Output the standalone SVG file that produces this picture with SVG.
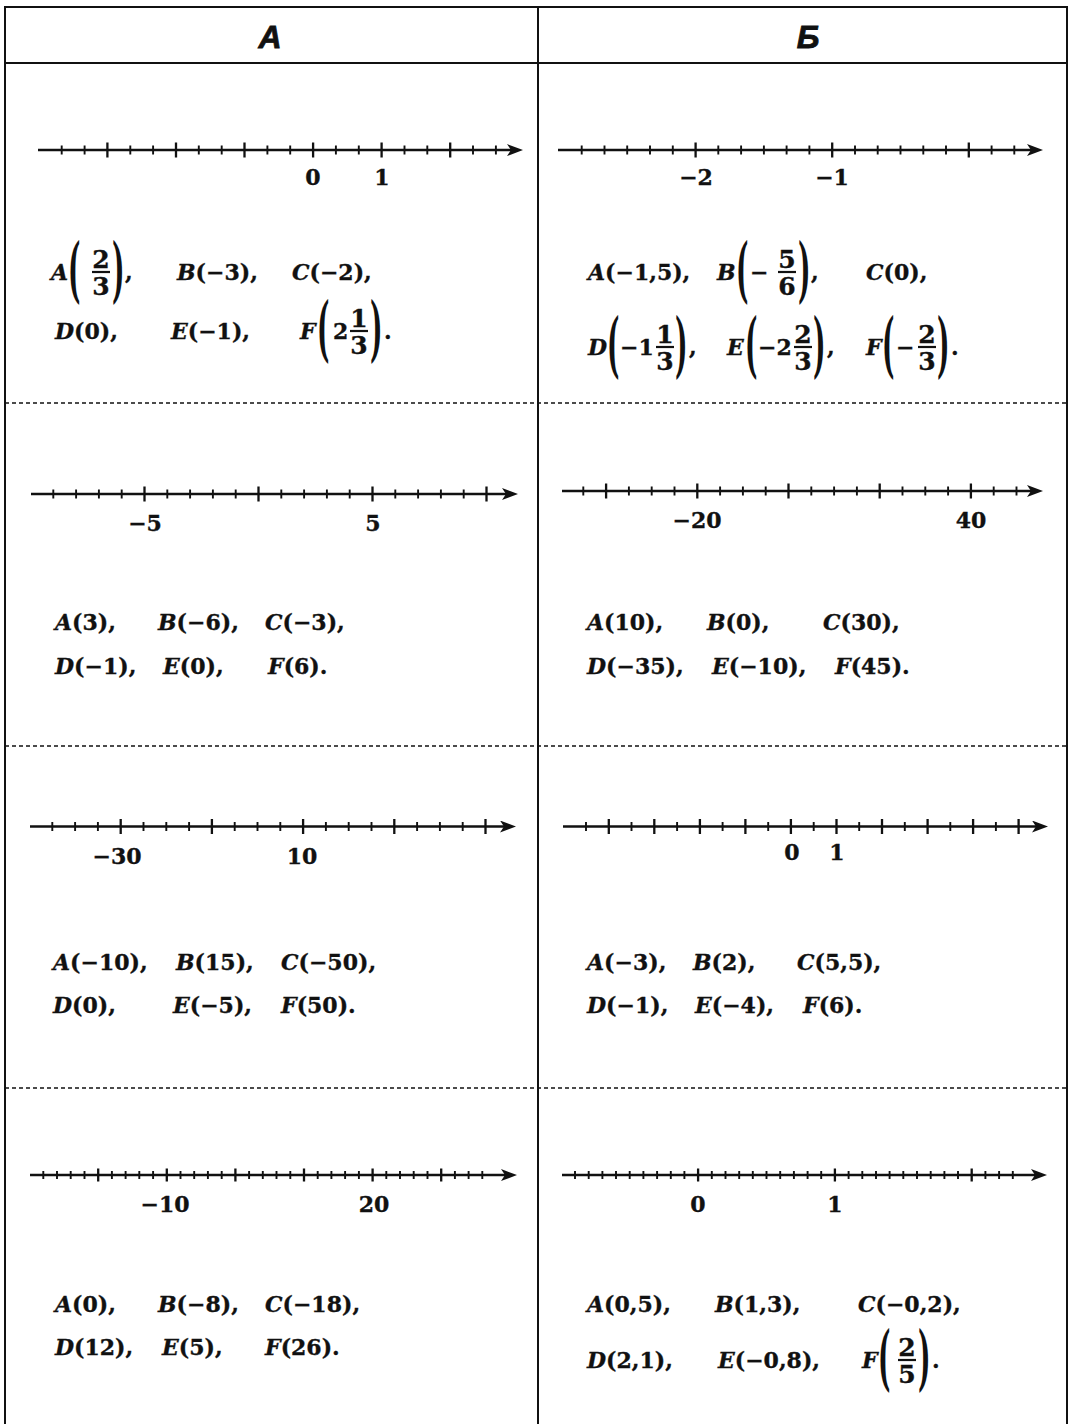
<svg xmlns="http://www.w3.org/2000/svg" width="1072" height="1424" viewBox="0 0 1072 1424">
<style>
.bg{fill:#fff}
.grid{stroke:#111;stroke-width:2;fill:none}
.dash{stroke:#111;stroke-width:1.3;stroke-dasharray:4 3;fill:none}
.hd{font-family:"Liberation Sans",Arial,sans-serif;font-weight:bold;font-style:italic;font-size:32px;text-anchor:middle;fill:#111;stroke:#111;stroke-width:0.8}
.axis{stroke:#111;stroke-width:2.4;fill:none;marker-end:url(#arr)}
.tk{stroke:#111;stroke-width:1.9;fill:none}
.tkl{stroke:#111;stroke-width:2.3;fill:none}
.lb{font-family:"DejaVu Serif",serif;font-weight:bold;font-size:22px;text-anchor:middle;fill:#111;stroke:#111;stroke-width:0.35}
.tx{font-family:"DejaVu Serif",serif;font-weight:bold;font-size:22px;fill:#111;stroke:#111;stroke-width:0.35}
.i{font-style:italic}
.fr{font-family:"DejaVu Serif",serif;font-weight:bold;font-size:25px;text-anchor:middle;fill:#111;stroke:#111;stroke-width:0.35}
.pr{font-family:"DejaVu Serif",serif;font-weight:bold;font-size:22px;fill:#111}
.bar{stroke:#111;stroke-width:2.2}
</style>
<defs>
<marker id="arr" markerUnits="userSpaceOnUse" markerWidth="18" markerHeight="14" refX="10" refY="6" orient="auto" viewBox="0 0 18 14">
<path d="M0,0 L16,6 L0,12 L4,6 z" fill="#111"/>
</marker>
</defs>
<rect class="bg" x="0" y="0" width="1072" height="1424"/>
<g id="table">
<path class="grid" d="M5,1424 V7 H1067 V1424 M5,63 H1067 M538,7 V1424"/>
<path class="dash" d="M5,403 H1067 M5,746 H1067 M5,1088 H1067"/>
</g>
<g id="header-A"><text class="hd" x="270" y="48">A</text></g>
<g id="header-B"><text class="hd" x="808" y="48">Б</text></g>

<g id="A1">
<g id="A1-line">
<line class="axis" x1="38" y1="150" x2="517" y2="150"/>
<path class="tk" d="M61.7,145.5v9M84.6,145.5v9M130.3,145.5v9M153.1,145.5v9M198.8,145.5v9M221.7,145.5v9M267.4,145.5v9M290.2,145.5v9M335.9,145.5v9M358.8,145.5v9M404.5,145.5v9M427.3,145.5v9M473,145.5v9M495.9,145.5v9"/>
<path class="tkl" d="M107.4,142.5v15M176,142.5v15M244.5,142.5v15M313.1,142.5v15M381.6,142.5v15M450.2,142.5v15"/>
<text class="lb" x="313" y="185">0</text>
<text class="lb" x="382" y="185">1</text>
</g>
<g id="A1-points">
<text class="tx" x="51" y="280"><tspan class="i">A</tspan></text>
<text class="pr" transform="translate(68,294) scale(1.2,3.2)">(</text>
<text class="fr" x="101" y="268">2</text><line class="bar" x1="92" y1="272" x2="110" y2="272"/><text class="fr" x="101" y="295">3</text>
<text class="pr" transform="translate(112,294) scale(1.2,3.2)">)</text>
<text class="tx" x="125" y="280">,</text>
<text class="tx" x="177" y="280"><tspan class="i">B</tspan>(−3),</text>
<text class="tx" x="292" y="280"><tspan class="i">C</tspan>(−2),</text>
<text class="tx" x="55" y="339"><tspan class="i">D</tspan>(0),</text>
<text class="tx" x="171" y="339"><tspan class="i">E</tspan>(−1),</text>
<text class="tx" x="300" y="339"><tspan class="i">F</tspan></text>
<text class="pr" transform="translate(317,353) scale(1.2,3.2)">(</text>
<text class="tx" x="333" y="339">2</text>
<text class="fr" x="359" y="327">1</text><line class="bar" x1="350" y1="331" x2="368" y2="331"/><text class="fr" x="359" y="354">3</text>
<text class="pr" transform="translate(370,353) scale(1.2,3.2)">)</text>
<text class="tx" x="384" y="339">.</text>
</g>
</g>

<g id="B1">
<g id="B1-line">
<line class="axis" x1="558" y1="150" x2="1037" y2="150"/>
<path class="tk" d="M581.7,145.5v9M604.5,145.5v9M627.2,145.5v9M650,145.5v9M672.8,145.5v9M718.3,145.5v9M741.1,145.5v9M763.9,145.5v9M786.6,145.5v9M809.4,145.5v9M855,145.5v9M877.7,145.5v9M900.5,145.5v9M923.3,145.5v9M946,145.5v9M991.6,145.5v9M1014.3,145.5v9"/>
<path class="tkl" d="M695.6,142.5v15M832.2,142.5v15M968.8,142.5v15"/>
<text class="lb" x="696" y="185">−2</text>
<text class="lb" x="832" y="185">−1</text>
</g>
<g id="B1-points">
<text class="tx" x="588" y="280"><tspan class="i">A</tspan>(−1,5),</text>
<text class="tx" x="717" y="280"><tspan class="i">B</tspan></text>
<text class="pr" transform="translate(736,294) scale(1.2,3.2)">(</text>
<text class="tx" x="750" y="280">−</text>
<text class="fr" x="787" y="268">5</text><line class="bar" x1="778" y1="272" x2="796" y2="272"/><text class="fr" x="787" y="295">6</text>
<text class="pr" transform="translate(798,294) scale(1.2,3.2)">)</text>
<text class="tx" x="811" y="280">,</text>
<text class="tx" x="866" y="280"><tspan class="i">C</tspan>(0),</text>
<text class="tx" x="588" y="355"><tspan class="i">D</tspan></text>
<text class="pr" transform="translate(607,369) scale(1.2,3.2)">(</text>
<text class="tx" x="620" y="355">−1</text>
<text class="fr" x="665" y="343">1</text><line class="bar" x1="656" y1="347" x2="674" y2="347"/><text class="fr" x="665" y="370">3</text>
<text class="pr" transform="translate(675,369) scale(1.2,3.2)">)</text>
<text class="tx" x="689" y="355">,</text>
<text class="tx" x="727" y="355"><tspan class="i">E</tspan></text>
<text class="pr" transform="translate(745,369) scale(1.2,3.2)">(</text>
<text class="tx" x="758" y="355">−2</text>
<text class="fr" x="803" y="343">2</text><line class="bar" x1="794" y1="347" x2="812" y2="347"/><text class="fr" x="803" y="370">3</text>
<text class="pr" transform="translate(813,369) scale(1.2,3.2)">)</text>
<text class="tx" x="827" y="355">,</text>
<text class="tx" x="866" y="355"><tspan class="i">F</tspan></text>
<text class="pr" transform="translate(882,369) scale(1.2,3.2)">(</text>
<text class="tx" x="896" y="355">−</text>
<text class="fr" x="927" y="343">2</text><line class="bar" x1="918" y1="347" x2="936" y2="347"/><text class="fr" x="927" y="370">3</text>
<text class="pr" transform="translate(937,369) scale(1.2,3.2)">)</text>
<text class="tx" x="951" y="355">.</text>
</g>
</g>

<g id="A2">
<g id="A2-line">
<line class="axis" x1="31" y1="494" x2="512" y2="494"/>
<path class="tk" d="M53.3,489.5v9M76.1,489.5v9M98.9,489.5v9M121.7,489.5v9M167.3,489.5v9M190.1,489.5v9M212.9,489.5v9M235.7,489.5v9M281.3,489.5v9M304.1,489.5v9M326.9,489.5v9M349.7,489.5v9M395.3,489.5v9M418.1,489.5v9M440.9,489.5v9M463.7,489.5v9"/>
<path class="tkl" d="M144.5,486.5v15M258.5,486.5v15M372.5,486.5v15M486.5,486.5v15"/>
<text class="lb" x="145" y="531">−5</text>
<text class="lb" x="373" y="531">5</text>
</g>
<g id="A2-points">
<text class="tx" x="55" y="630"><tspan class="i">A</tspan>(3),</text>
<text class="tx" x="158" y="630"><tspan class="i">B</tspan>(−6),</text>
<text class="tx" x="265" y="630"><tspan class="i">C</tspan>(−3),</text>
<text class="tx" x="55" y="674"><tspan class="i">D</tspan>(−1),</text>
<text class="tx" x="163" y="674"><tspan class="i">E</tspan>(0),</text>
<text class="tx" x="268" y="674"><tspan class="i">F</tspan>(6).</text>
</g>
</g>

<g id="B2">
<g id="B2-line">
<line class="axis" x1="562" y1="491" x2="1037" y2="491"/>
<path class="tk" d="M583.3,486.5v9M628.9,486.5v9M651.7,486.5v9M674.5,486.5v9M720.1,486.5v9M742.9,486.5v9M765.7,486.5v9M811.3,486.5v9M834.1,486.5v9M856.9,486.5v9M902.5,486.5v9M925.3,486.5v9M948.1,486.5v9M993.7,486.5v9M1016.5,486.5v9"/>
<path class="tkl" d="M606.1,483.5v15M697.3,483.5v15M788.5,483.5v15M879.7,483.5v15M970.9,483.5v15"/>
<text class="lb" x="697" y="528">−20</text>
<text class="lb" x="971" y="528">40</text>
</g>
<g id="B2-points">
<text class="tx" x="587" y="630"><tspan class="i">A</tspan>(10),</text>
<text class="tx" x="707" y="630"><tspan class="i">B</tspan>(0),</text>
<text class="tx" x="823" y="630"><tspan class="i">C</tspan>(30),</text>
<text class="tx" x="587" y="674"><tspan class="i">D</tspan>(−35),</text>
<text class="tx" x="712" y="674"><tspan class="i">E</tspan>(−10),</text>
<text class="tx" x="835" y="674"><tspan class="i">F</tspan>(45).</text>
</g>
</g>

<g id="A3">
<g id="A3-line">
<line class="axis" x1="30" y1="826.5" x2="510" y2="826.5"/>
<path class="tk" d="M52.3,822v9M75.1,822v9M97.9,822v9M143.5,822v9M166.3,822v9M189.1,822v9M234.7,822v9M257.5,822v9M280.3,822v9M325.9,822v9M348.7,822v9M371.5,822v9M417.1,822v9M439.9,822v9M462.7,822v9"/>
<path class="tkl" d="M120.7,819v15M211.9,819v15M303.1,819v15M394.3,819v15M485.5,819v15"/>
<text class="lb" x="117" y="864">−30</text>
<text class="lb" x="302" y="864">10</text>
</g>
<g id="A3-points">
<text class="tx" x="53" y="970"><tspan class="i">A</tspan>(−10),</text>
<text class="tx" x="176" y="970"><tspan class="i">B</tspan>(15),</text>
<text class="tx" x="281" y="970"><tspan class="i">C</tspan>(−50),</text>
<text class="tx" x="53" y="1013"><tspan class="i">D</tspan>(0),</text>
<text class="tx" x="173" y="1013"><tspan class="i">E</tspan>(−5),</text>
<text class="tx" x="281" y="1013"><tspan class="i">F</tspan>(50).</text>
</g>
</g>

<g id="B3">
<g id="B3-line">
<line class="axis" x1="563" y1="826.5" x2="1042" y2="826.5"/>
<path class="tk" d="M586,822v9M631.5,822v9M677.1,822v9M722.6,822v9M768.2,822v9M813.7,822v9M859.2,822v9M904.8,822v9M950.3,822v9M995.9,822v9"/>
<path class="tkl" d="M608.8,819v15M654.3,819v15M699.9,819v15M745.4,819v15M790.9,819v15M836.5,819v15M882,819v15M927.6,819v15M973.1,819v15M1018.6,819v15"/>
<text class="lb" x="792" y="860">0</text>
<text class="lb" x="837" y="860">1</text>
</g>
<g id="B3-points">
<text class="tx" x="587" y="970"><tspan class="i">A</tspan>(−3),</text>
<text class="tx" x="693" y="970"><tspan class="i">B</tspan>(2),</text>
<text class="tx" x="797" y="970"><tspan class="i">C</tspan>(5,5),</text>
<text class="tx" x="587" y="1013"><tspan class="i">D</tspan>(−1),</text>
<text class="tx" x="695" y="1013"><tspan class="i">E</tspan>(−4),</text>
<text class="tx" x="803" y="1013"><tspan class="i">F</tspan>(6).</text>
</g>
</g>

<g id="A4">
<g id="A4-line">
<line class="axis" x1="30" y1="1175" x2="511" y2="1175"/>
<path class="tk" d="M43.3,1171v8M57,1171v8M70.7,1171v8M84.5,1171v8M111.9,1171v8M125.6,1171v8M139.3,1171v8M153.1,1171v8M180.5,1171v8M194.2,1171v8M207.9,1171v8M221.7,1171v8M249.1,1171v8M262.8,1171v8M276.5,1171v8M290.3,1171v8M317.7,1171v8M331.4,1171v8M345.1,1171v8M358.9,1171v8M386.3,1171v8M400,1171v8M413.7,1171v8M427.5,1171v8M454.9,1171v8M468.6,1171v8M482.3,1171v8"/>
<path class="tkl" d="M98.2,1168.5v13M166.8,1168.5v13M235.4,1168.5v13M304,1168.5v13M372.6,1168.5v13M441.2,1168.5v13"/>
<text class="lb" x="165" y="1212">−10</text>
<text class="lb" x="374" y="1212">20</text>
</g>
<g id="A4-points">
<text class="tx" x="55" y="1312"><tspan class="i">A</tspan>(0),</text>
<text class="tx" x="158" y="1312"><tspan class="i">B</tspan>(−8),</text>
<text class="tx" x="265" y="1312"><tspan class="i">C</tspan>(−18),</text>
<text class="tx" x="55" y="1355"><tspan class="i">D</tspan>(12),</text>
<text class="tx" x="162" y="1355"><tspan class="i">E</tspan>(5),</text>
<text class="tx" x="265" y="1355"><tspan class="i">F</tspan>(26).</text>
</g>
</g>

<g id="B4">
<g id="B4-line">
<line class="axis" x1="562" y1="1175" x2="1041" y2="1175"/>
<path class="tk" d="M575,1171v8M588.7,1171v8M602.4,1171v8M616,1171v8M629.7,1171v8M643.4,1171v8M657.1,1171v8M670.8,1171v8M684.4,1171v8M711.8,1171v8M725.5,1171v8M739.2,1171v8M752.8,1171v8M766.5,1171v8M780.2,1171v8M793.9,1171v8M807.6,1171v8M821.2,1171v8M848.6,1171v8M862.3,1171v8M876,1171v8M889.6,1171v8M903.3,1171v8M917,1171v8M930.7,1171v8M944.4,1171v8M958,1171v8M985.4,1171v8M999.1,1171v8M1012.8,1171v8"/>
<path class="tkl" d="M698.1,1168.5v13M834.9,1168.5v13M971.7,1168.5v13"/>
<text class="lb" x="698" y="1212">0</text>
<text class="lb" x="835" y="1212">1</text>
</g>
<g id="B4-points">
<text class="tx" x="587" y="1312"><tspan class="i">A</tspan>(0,5),</text>
<text class="tx" x="715" y="1312"><tspan class="i">B</tspan>(1,3),</text>
<text class="tx" x="858" y="1312"><tspan class="i">C</tspan>(−0,2),</text>
<text class="tx" x="587" y="1368"><tspan class="i">D</tspan>(2,1),</text>
<text class="tx" x="718" y="1368"><tspan class="i">E</tspan>(−0,8),</text>
<text class="tx" x="862" y="1368"><tspan class="i">F</tspan></text>
<text class="pr" transform="translate(878,1382) scale(1.2,3.2)">(</text>
<text class="fr" x="907" y="1356">2</text><line class="bar" x1="898" y1="1360" x2="916" y2="1360"/><text class="fr" x="907" y="1383">5</text>
<text class="pr" transform="translate(918,1382) scale(1.2,3.2)">)</text>
<text class="tx" x="932" y="1368">.</text>
</g>
</g>
</svg>
